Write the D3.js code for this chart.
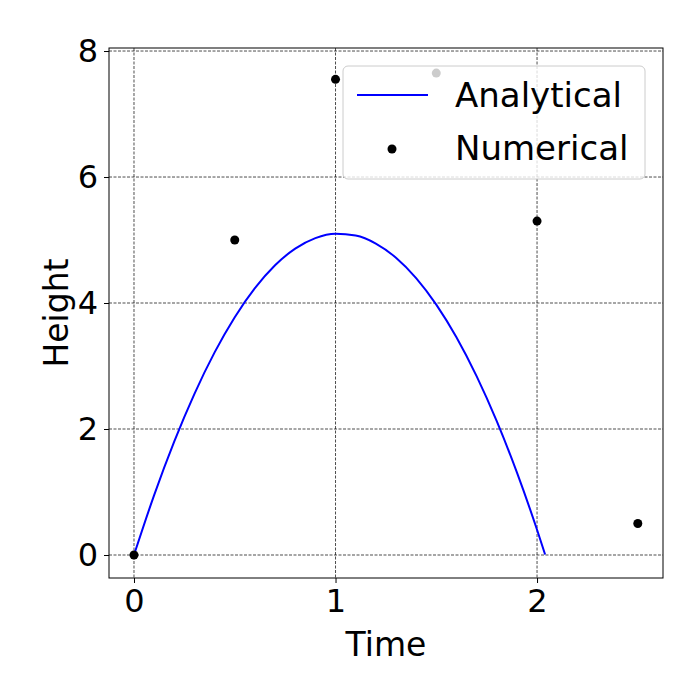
<!DOCTYPE html>
<html>
<head>
<meta charset="utf-8">
<script src="https://cdn.jsdelivr.net/npm/d3@7"></script>
<style>
  body { margin: 0; background: #fff; }
  text { font-family: "DejaVu Sans", sans-serif; }
</style>
</head>
<body>
<div id="chart"></div>
<script>
const width = 700;
const height = 700;
const margin = { top: 48, right: 37, bottom: 122, left: 109 };

// analytical curve, sampled
const analyticalTime = [0, 0.1, 0.2, 0.3, 0.4, 0.5, 0.6, 0.7, 0.8, 0.9, 1.0, 1.1, 1.2, 1.3, 1.4, 1.5, 1.6, 1.7, 1.8, 1.9, 2.0, 2.04];
const analyticalHeight = [0, 0.951, 1.804, 2.559, 3.216, 3.775, 4.236, 4.599, 4.864, 5.031, 5.1, 5.071, 4.944, 4.719, 4.396, 3.975, 3.456, 2.839, 2.124, 1.311, 0.4, 0.008];

// numerical points
const numericalTime = [0, 0.5, 1.0, 1.5, 2.0, 2.5];
const numericalHeight = [0, 5.0, 7.55, 7.65, 5.3, 0.5];

const xTicks = [0, 1, 2];
const yTicks = [0, 2, 4, 6, 8];

const xScale = d3.scaleLinear()
  .domain([-0.124, 2.625])
  .range([margin.left, width - margin.right]);

const yScale = d3.scaleLinear()
  .domain([-0.365, 8.048])
  .range([height - margin.bottom, margin.top]);

const svg = d3.select("#chart")
  .append("svg")
  .attr("width", width)
  .attr("height", height);

// grid
svg.append("g")
  .selectAll("line")
  .data(xTicks)
  .enter()
  .append("line")
  .attr("x1", d => xScale(d)).attr("x2", d => xScale(d))
  .attr("y1", margin.top).attr("y2", height - margin.bottom)
  .attr("stroke", "#000").attr("stroke-width", 0.7).attr("stroke-dasharray", "3,1.5");

svg.append("g")
  .selectAll("line")
  .data(yTicks)
  .enter()
  .append("line")
  .attr("y1", d => yScale(d)).attr("y2", d => yScale(d))
  .attr("x1", margin.left).attr("x2", width - margin.right)
  .attr("stroke", "#000").attr("stroke-width", 0.7).attr("stroke-dasharray", "3,1.5");

// axes
const xAxis = d3.axisBottom(xScale).tickValues(xTicks).tickFormat(d3.format("d")).tickSize(5).tickPadding(6);
const yAxis = d3.axisLeft(yScale).tickValues(yTicks).tickFormat(d3.format("d")).tickSize(5).tickPadding(6);

const gx = svg.append("g")
  .attr("transform", `translate(0,${height - margin.bottom})`)
  .call(xAxis);
const gy = svg.append("g")
  .attr("transform", `translate(${margin.left},0)`)
  .call(yAxis);

[gx, gy].forEach(g => {
  g.attr("font-size", 32).attr("font-family", "DejaVu Sans");
  g.select(".domain").remove();
  g.selectAll("text").attr("fill", "#000");
  g.selectAll("line").attr("stroke", "#000");
});

svg.append("rect")
  .attr("x", margin.left).attr("y", margin.top)
  .attr("width", width - margin.left - margin.right)
  .attr("height", height - margin.top - margin.bottom)
  .attr("fill", "none").attr("stroke", "#000").attr("stroke-width", 1);

// analytical line
const line = d3.line()
  .x(d => xScale(d[0]))
  .y(d => yScale(d[1]))
  .curve(d3.curveMonotoneX);

svg.append("path")
  .datum(analyticalTime.map((t, i) => [t, analyticalHeight[i]]))
  .attr("d", line)
  .attr("fill", "none")
  .attr("stroke", "#0000ff")
  .attr("stroke-width", 2);

// numerical points
svg.append("g")
  .selectAll("circle")
  .data(numericalTime.map((t, i) => [t, numericalHeight[i]]))
  .enter()
  .append("circle")
  .attr("cx", d => xScale(d[0]))
  .attr("cy", d => yScale(d[1]))
  .attr("r", 4.5)
  .attr("fill", "#000");

// labels
svg.append("text")
  .attr("x", (margin.left + width - margin.right) / 2)
  .attr("y", 656)
  .attr("text-anchor", "middle")
  .style("font-size", "33px")
  .text("Time");

svg.append("text")
  .attr("transform", `translate(68,${(margin.top + height - margin.bottom) / 2}) rotate(-90)`)
  .attr("text-anchor", "middle")
  .style("font-size", "33px")
  .text("Height");

// legend
const legend = svg.append("g");
legend.append("rect")
  .attr("x", 343).attr("y", 66).attr("width", 302).attr("height", 113)
  .attr("rx", 5)
  .attr("fill", "#fff").attr("fill-opacity", 0.8)
  .attr("stroke", "#ccc").attr("stroke-width", 1);

legend.append("line")
  .attr("x1", 357).attr("x2", 428).attr("y1", 95).attr("y2", 95)
  .attr("stroke", "#0000ff").attr("stroke-width", 2);
legend.append("circle")
  .attr("cx", 392).attr("cy", 149).attr("r", 4.5).attr("fill", "#000");

legend.append("text").attr("x", 455).attr("y", 107).style("font-size", "34px").text("Analytical");
legend.append("text").attr("x", 455).attr("y", 160).style("font-size", "34px").text("Numerical");
</script>
</body>
</html>
